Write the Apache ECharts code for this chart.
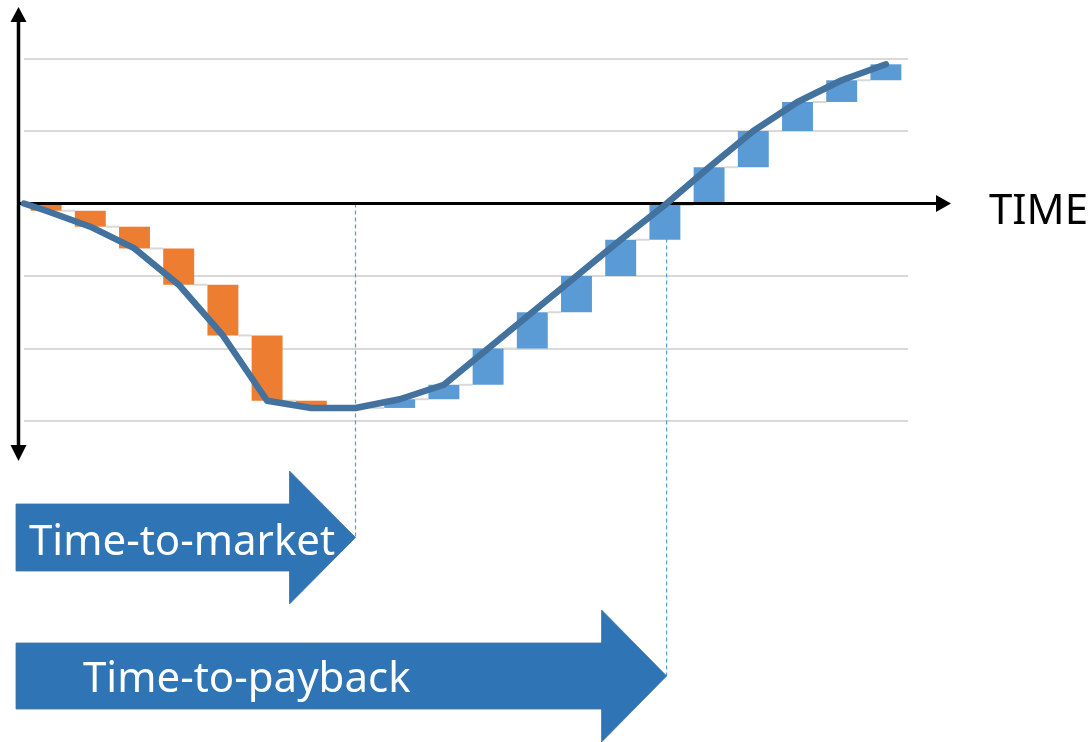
<!DOCTYPE html>
<html><head><meta charset="utf-8">
<script src="https://cdn.jsdelivr.net/npm/echarts@6/dist/echarts.min.js"></script>
<style>html,body{margin:0;padding:0;background:#fff}#chart{width:1092px;height:742px}</style>
</head><body><div id="chart"></div>
<script>
// ---- data ----
const periods = ['P1','P2','P3','P4','P5','P6','P7','P8','P9','P10','P11','P12','P13','P14','P15','P16','P17','P18','P19','P20'];
const cashFlow = [-0.10,-0.22,-0.30,-0.50,-0.70,-0.90,-0.10,0,0.12,0.20,0.50,0.50,0.50,0.50,0.48,0.52,0.50,0.40,0.30,0.22];
const yTicks = [-3,-2,-1,0,1,2];
const marketPeriod = 8;   // 1-based period of market launch
const texts = { axis: 'TIME', market: 'Time-to-market', payback: 'Time-to-payback' };

// ---- derived ----
const cumulative = [];
let run = 0;
cashFlow.forEach(v => { run = +(run + v).toFixed(2); cumulative.push(run); });
const n = periods.length;
const barData = cashFlow.map((v, i) => [i + 0.5, i === 0 ? 0 : cumulative[i - 1], cumulative[i], v]);
const lineData = [[0, 0]].concat(cumulative.map((v, i) => [i + 0.5, v]));
// payback point: where the cumulative line crosses zero going up
let paybackX = n - 0.5;
for (let i = 1; i < lineData.length; i++) {
  const a = lineData[i - 1], b = lineData[i];
  if (a[1] < 0 && b[1] >= 0 && i > 8) { paybackX = a[0] + (0 - a[1]) / (b[1] - a[1]) * (b[0] - a[0]); break; }
}

const chart = echarts.init(document.getElementById('chart'), null, { renderer: 'canvas' });
const FONT = '"Noto Sans", "Open Sans", sans-serif';

chart.setOption({
  backgroundColor: '#ffffff',
  animation: false,
  grid: { left: 24, right: 184, top: 58.5, bottom: 321, containLabel: false },
  xAxis: { type: 'value', min: 0, max: n, show: false },
  yAxis: {
    type: 'value', min: yTicks[0], max: yTicks[yTicks.length - 1], interval: 1,
    axisLine: { show: false }, axisTick: { show: false }, axisLabel: { show: false },
    splitLine: { show: true, lineStyle: { color: '#D9D9D9', width: 2 } }
  },
  series: [
    {
      type: 'custom', z: 2,
      encode: { x: 0, y: [1, 2] },
      data: barData,
      renderItem: function (params, api) {
        const x = api.value(0), s = api.value(1), e = api.value(2), d = api.value(3);
        const idx = params.dataIndex;
        const w = api.size([0.7, 0])[0];
        const p1 = api.coord([x, s]), p2 = api.coord([x, e]);
        const children = [];
        if (idx < n - 1) {
          const q = api.coord([x + 1, e]);
          children.push({ type: 'line', shape: { x1: p1[0] + w / 2, y1: p2[1], x2: q[0] - w / 2, y2: p2[1] },
            style: { stroke: '#D9D9D9', lineWidth: 2 } });
        }
        if (d !== 0) {
          children.push({ type: 'rect',
            shape: { x: p1[0] - w / 2, y: Math.min(p1[1], p2[1]), width: w, height: Math.abs(p2[1] - p1[1]) },
            style: { fill: d < 0 ? '#ED7D31' : '#5B9BD5' } });
        }
        return { type: 'group', children: children };
      }
    },
    {
      type: 'line', z: 6, data: lineData, symbol: 'none', smooth: false,
      lineStyle: { color: '#44729F', width: 6.5, join: 'round', cap: 'round' }
    }
  ]
});

const zeroY = chart.convertToPixel({ yAxisIndex: 0 }, 0);
const mX = chart.convertToPixel({ xAxisIndex: 0 }, marketPeriod - 0.5);
const pX = chart.convertToPixel({ xAxisIndex: 0 }, paybackX);
const axisX = 18.5, xTip = 951;
const arrowFill = '#2F74B5';

function bigArrow(tipX, top, bottom, headTop, headBottom, headLen) {
  const midY = (headTop + headBottom) / 2;
  return {
    type: 'polygon', z: 20,
    shape: { points: [[16, top], [tipX - headLen, top], [tipX - headLen, headTop], [tipX, midY],
      [tipX - headLen, headBottom], [tipX - headLen, bottom], [16, bottom]] },
    style: { fill: arrowFill, stroke: '#41719C', lineWidth: 0.8 }
  };
}

chart.setOption({
  graphic: [
    { type: 'line', z: 1, shape: { x1: mX, y1: zeroY, x2: mX, y2: 537 },
      style: { stroke: '#5B9BD5', lineWidth: 1.2, lineDash: [4, 3] } },
    { type: 'line', z: 1, shape: { x1: pX, y1: zeroY, x2: pX, y2: 676 },
      style: { stroke: '#5B9BD5', lineWidth: 1.2, lineDash: [4, 3] } },
    { type: 'line', z: 4, shape: { x1: axisX, y1: 18, x2: axisX, y2: 450 }, style: { stroke: '#000', lineWidth: 3.5 } },
    { type: 'polygon', z: 4, shape: { points: [[axisX, 7], [axisX - 8, 22], [axisX + 8, 22]] }, style: { fill: '#000' } },
    { type: 'polygon', z: 4, shape: { points: [[axisX, 461], [axisX - 8, 445], [axisX + 8, 445]] }, style: { fill: '#000' } },
    { type: 'line', z: 4, shape: { x1: 17, y1: zeroY, x2: xTip - 10, y2: zeroY }, style: { stroke: '#000', lineWidth: 3 } },
    { type: 'polygon', z: 4, shape: { points: [[xTip, zeroY], [xTip - 15, zeroY - 8.5], [xTip - 15, zeroY + 8.5]] }, style: { fill: '#000' } },
    { type: 'text', z: 4, x: 989, y: 212,
      style: { text: texts.axis, font: '42px ' + FONT, fill: '#000', verticalAlign: 'middle', align: 'left' } },
    bigArrow(mX, 504, 571, 471, 604, 66),
    { type: 'text', z: 21, x: 29, y: 543,
      style: { text: texts.market, font: '42px ' + FONT, fill: '#fff', verticalAlign: 'middle', align: 'left' } },
    bigArrow(pX, 643, 709, 610, 742, 65),
    { type: 'text', z: 21, x: 83, y: 680,
      style: { text: texts.payback, font: '42px ' + FONT, fill: '#fff', verticalAlign: 'middle', align: 'left' } }
  ]
});
</script>
</body></html>
